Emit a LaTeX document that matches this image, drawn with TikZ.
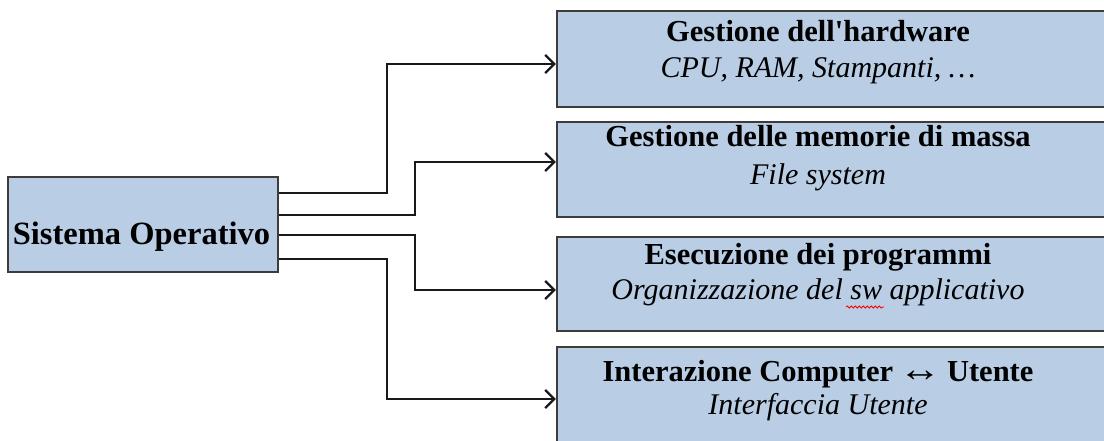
\documentclass[tikz,border=0pt]{standalone}
\usepackage{graphicx}
\usepackage{fontspec}
\setmainfont{Liberation Serif}
\usetikzlibrary{arrows.meta,decorations.pathmorphing}
\definecolor{boxfill}{HTML}{B9CDE5}
\definecolor{boxline}{HTML}{3C3C3C}
\begin{document}
\begin{tikzpicture}[x=1pt,y=1pt,
  box/.style={draw=boxline, line width=2.2pt, fill=boxfill, rectangle, inner sep=0pt},
  rbox/.style={box, minimum width=600pt},
  title/.style={font=\fontsize{30.5}{36}\selectfont\bfseries, anchor=base, inner sep=0pt},
  sub/.style={font=\fontsize{30}{36}\selectfont\itshape, anchor=base, inner sep=0pt},
  conn/.style={line width=2.4pt, draw=black!90, -{Straight Barb[length=9pt,width=18pt]}}]
\useasboundingbox (0,0) rectangle (1104,441);
\clip (0,0) rectangle (1104,441);
% left box
\node[box, minimum width=270pt, minimum height=95pt] (so) at (143,216.5) {};
\node[font=\fontsize{32.5}{36}\selectfont\bfseries, anchor=base, inner sep=0pt] (sot) at (141.5,196) {Sistema Operativo};
% right boxes
\node[rbox, minimum height=96pt] (b1) at (857,382) {};
\node[rbox, minimum height=95pt] (b2) at (857,271.5) {};
\node[rbox, minimum height=94pt] (b3) at (857,157) {};
\node[rbox, minimum height=96pt] (b4) at (857,46) {};
\node[title] (t1) at (818,399) {Gestione dell\textquotesingle hardware};
\node[sub]   (s1) at (818,363) {CPU, RAM, Stampanti, \dots};
\node[title] (t2) at (818,294) {Gestione delle memorie di massa};
\node[sub]   (s2) at (818,256) {File system};
\node[title] (t3) at (818,176) {Esecuzione dei programmi};
\node[sub]   (s3) at (818,141) {Organizzazione del sw applicativo};
\node[title] (t4) at (818,59) {Interazione Computer\hspace{-2pt} \scalebox{1.4}[1.2]{↔}\hspace{-2pt} Utente};
\node[sub]   (s4) at (818,26) {Interfaccia Utente};
% spell-check underline
\draw[red, line width=0.8pt, decorate, decoration={snake, amplitude=1pt, segment length=4pt}] (846,134) -- (884,134);
% connectors
\draw[conn] ([yshift=31.5pt]so.east) -- ++(108,0) |- ([yshift=-5pt]b1.west);
\draw[conn] ([yshift=9.5pt]so.east) -- ++(136,0) |- ([yshift=7.5pt]b2.west);
\draw[conn] ([yshift=-10.5pt]so.east) -- ++(136,0) |- ([yshift=-6pt]b3.west);
\draw[conn] ([yshift=-34.5pt]so.east) -- ++(108,0) |- ([yshift=-4pt]b4.west);
\end{tikzpicture}
\end{document}
